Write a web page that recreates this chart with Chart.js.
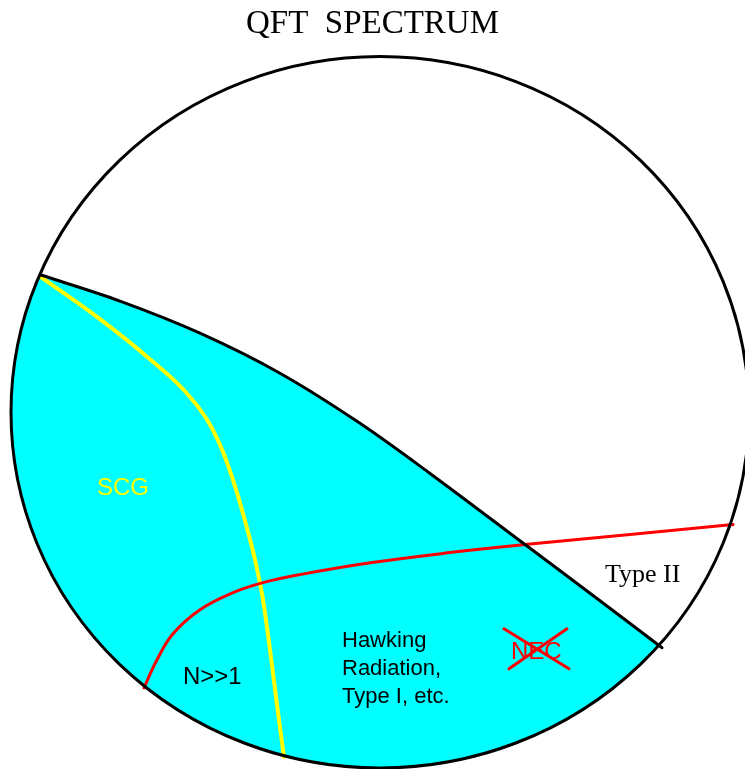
<!DOCTYPE html>
<html>
<head>
<meta charset="utf-8">
<script src="https://cdn.jsdelivr.net/npm/chart.js@4"></script>
<style>
  html, body { margin: 0; padding: 0; background: #fff; }
  canvas { display: block; }
</style>
</head>
<body>
<canvas id="myChart" width="745" height="769"></canvas>
<script>
// outline of the spectrum (ellipse centre and radii, in picture units)
const circleCenter = [380, 413];
const circleRadius = [369, 355];

// black boundary of the cyan region
const boundaryX = [41, 120, 200, 280, 360, 430, 525, 600, 662];
const boundaryY = [276, 302, 334, 374, 424, 474, 545, 601, 648];

// yellow SCG curve
const scgX = [41, 100, 150, 185, 208, 224, 236, 246, 255, 263, 270, 277, 284];
const scgY = [278, 320, 360, 392, 422, 455, 490, 525, 560, 600, 650, 705, 757];

// red N>>1 curve
const redX = [144, 157, 173, 200, 233, 263, 300, 372, 450, 525, 630, 733];
const redY = [688, 660, 634, 610, 593, 583, 575, 563, 553, 545, 535, 525];

// cross over NEC
const crossAX = [504, 569];
const crossAY = [629, 669];
const crossBX = [509, 567];
const crossBY = [669, 629];

const toPoints = (xs, ys) => xs.map((x, i) => ({x: x, y: ys[i]}));

const labels = [
  {text: 'SCG', x: 97, y: 496, color: '#ffff00', font: '24px "Liberation Sans", Arial, sans-serif'},
  {text: 'N>>1', x: 183, y: 684, color: '#000', font: '24px "Liberation Sans", Arial, sans-serif'},
  {text: 'Hawking', x: 342, y: 647, color: '#000', font: '22px "Liberation Sans", Arial, sans-serif'},
  {text: 'Radiation,', x: 342, y: 675, color: '#000', font: '22px "Liberation Sans", Arial, sans-serif'},
  {text: 'Type I, etc.', x: 342, y: 703, color: '#000', font: '22px "Liberation Sans", Arial, sans-serif'},
  {text: 'NEC', x: 511, y: 659, color: '#ff0000', font: '24px "Liberation Sans", Arial, sans-serif'},
  {text: 'Type II', x: 605, y: 582, color: '#000', font: '26px "Liberation Serif", "DejaVu Serif", serif'}
];

const spectrumPlugin = {
  id: 'spectrum',
  beforeDatasetsDraw(chart) {
    const ctx = chart.ctx;
    const x = chart.scales.x, y = chart.scales.y;
    const cx = x.getPixelForValue(circleCenter[0]);
    const cy = y.getPixelForValue(circleCenter[1]);
    const rx = x.getPixelForValue(circleCenter[0] + circleRadius[0]) - cx;
    const ry = y.getPixelForValue(circleCenter[1] + circleRadius[1]) - cy;

    const meta = chart.getDatasetMeta(0);
    const line = meta.dataset;
    line.updateControlPoints(chart.chartArea, 'x');
    const pts = meta.data;
    const ang = p => Math.atan2((p.y - cy) / ry, (p.x - cx) / rx);
    let a0 = ang(pts[pts.length - 1]);
    let a1 = ang(pts[0]);
    if (a1 < a0) a1 += Math.PI * 2;

    ctx.save();
    ctx.beginPath();
    line.path(ctx);
    ctx.ellipse(cx, cy, rx, ry, 0, a0, a1, false);
    ctx.closePath();
    ctx.fillStyle = '#00ffff';
    ctx.fill();

    ctx.textBaseline = 'alphabetic';
    ctx.textAlign = 'left';
    labels.forEach(l => {
      ctx.font = l.font;
      ctx.fillStyle = l.color;
      ctx.fillText(l.text, x.getPixelForValue(l.x), y.getPixelForValue(l.y));
    });
    ctx.restore();
  },
  afterDatasetsDraw(chart) {
    const ctx = chart.ctx;
    const x = chart.scales.x, y = chart.scales.y;
    const cx = x.getPixelForValue(circleCenter[0]);
    const cy = y.getPixelForValue(circleCenter[1]);
    const rx = x.getPixelForValue(circleCenter[0] + circleRadius[0]) - cx;
    const ry = y.getPixelForValue(circleCenter[1] + circleRadius[1]) - cy;
    ctx.save();
    ctx.beginPath();
    ctx.ellipse(cx, cy, rx, ry, 0, 0, Math.PI * 2);
    ctx.lineWidth = 3;
    ctx.strokeStyle = '#000';
    ctx.stroke();
    ctx.restore();
  }
};

const ctx = document.getElementById('myChart');

new Chart(ctx, {
  type: 'line',
  data: {
    datasets: [
      {label: 'boundary', data: toPoints(boundaryX, boundaryY), borderColor: '#000', borderWidth: 3, cubicInterpolationMode: 'monotone', order: 1},
      {label: 'SCG', data: toPoints(scgX, scgY), borderColor: '#ffff00', borderWidth: 4, cubicInterpolationMode: 'monotone', order: 3},
      {label: 'N>>1', data: toPoints(redX, redY), borderColor: '#ff0000', borderWidth: 3, tension: 0.4, order: 2},
      {label: 'crossA', data: toPoints(crossAX, crossAY), borderColor: '#ff0000', borderWidth: 3, order: 0},
      {label: 'crossB', data: toPoints(crossBX, crossBY), borderColor: '#ff0000', borderWidth: 3, order: 0}
    ]
  },
  options: {
    responsive: false,
    animation: false,
    devicePixelRatio: 1,
    layout: {padding: 0},
    elements: {point: {radius: 0, hoverRadius: 0}, line: {borderCapStyle: 'round', fill: false}},
    scales: {
      x: {type: 'linear', min: 0, max: 745, display: false},
      y: {type: 'linear', min: 46, max: 769, reverse: true, display: false}
    },
    plugins: {
      legend: {display: false},
      tooltip: {enabled: false},
      title: {
        display: true,
        text: 'QFT  SPECTRUM',
        color: '#000',
        font: {family: '"Liberation Serif", "DejaVu Serif", serif', size: 33, weight: 'normal', lineHeight: 1.2},
        padding: {top: 5, bottom: 0}
      }
    }
  },
  plugins: [spectrumPlugin]
});
</script>
</body>
</html>
